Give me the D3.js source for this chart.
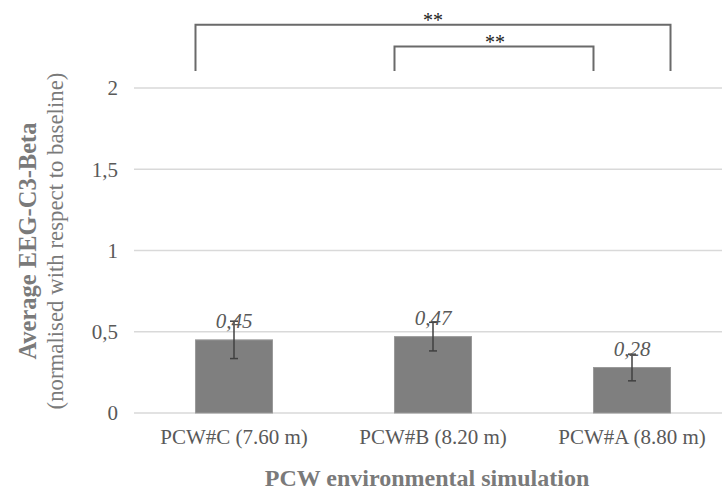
<!DOCTYPE html>
<html>
<head>
<meta charset="utf-8">
<script src="https://cdn.jsdelivr.net/npm/d3@7/dist/d3.min.js"></script>
<style>
  html, body { margin: 0; padding: 0; background: #fff; }
</style>
</head>
<body>
<svg id="chart" width="722" height="498"></svg>
<script>
// Conditions and measured means
const categories = ["PCW#C (7.60 m)", "PCW#B (8.20 m)", "PCW#A (8.80 m)"];
const means = [0.45, 0.47, 0.28];
const errors = [0.115, 0.088, 0.082];
const valueLabels = ["0,45", "0,47", "0,28"];
const yTicks = [0, 0.5, 1, 1.5, 2];
const yTickLabels = ["0", "0,5", "1", "1,5", "2"];
// Significance brackets between conditions
const bracketFrom = ["PCW#C (7.60 m)", "PCW#B (8.20 m)"];
const bracketTo = ["PCW#A (8.80 m)", "PCW#A (8.80 m)"];
const bracketMarks = ["**", "**"];

const FONT = "'Liberation Serif', 'Tinos', 'Times New Roman', 'DejaVu Serif', serif";

const svg = d3.select("#chart").attr("font-family", FONT);

const x = d3.scaleBand()
  .domain(categories)
  .range([134.5, 731.5])
  .paddingInner(0.613)
  .paddingOuter(0.3065);

const y = d3.scaleLinear().domain([0, 2]).range([413, 88]);

// Horizontal gridlines
svg.append("g")
  .selectAll("line")
  .data(yTicks)
  .join("line")
  .attr("x1", 134).attr("x2", 731)
  .attr("y1", d => y(d)).attr("y2", d => y(d))
  .attr("stroke", "#d9d9d9")
  .attr("stroke-width", 1.3);

// Y axis tick labels
svg.append("g")
  .selectAll("text")
  .data(yTicks)
  .join("text")
  .attr("font-family", FONT)
  .attr("x", 118)
  .attr("y", d => y(d))
  .attr("dy", "0.35em")
  .attr("text-anchor", "end")
  .attr("font-size", 21)
  .attr("fill", "#595959")
  .text((d, i) => yTickLabels[i]);

// Bars
svg.append("g")
  .selectAll("rect")
  .data(categories)
  .join("rect")
  .attr("x", d => x(d))
  .attr("width", x.bandwidth())
  .attr("y", (d, i) => y(means[i]))
  .attr("height", (d, i) => y(0) - y(means[i]))
  .attr("fill", "#7f7f7f")
  .attr("stroke", "#9a9a9a")
  .attr("stroke-width", 1);

// Error bars
const eb = svg.append("g").attr("stroke", "#404040").attr("stroke-width", 1.5);
categories.forEach((c, i) => {
  const cx = x(c) + x.bandwidth() / 2;
  const hi = y(means[i] + errors[i]);
  const lo = y(means[i] - errors[i]);
  eb.append("line").attr("x1", cx).attr("x2", cx).attr("y1", hi).attr("y2", lo);
  eb.append("line").attr("x1", cx - 4).attr("x2", cx + 4).attr("y1", hi).attr("y2", hi);
  eb.append("line").attr("x1", cx - 4).attr("x2", cx + 4).attr("y1", lo).attr("y2", lo);
});

// Value labels above bars
svg.append("g")
  .selectAll("text")
  .data(categories)
  .join("text")
  .attr("font-family", FONT)
  .attr("x", d => x(d) + x.bandwidth() / 2)
  .attr("y", (d, i) => y(means[i]) - 11.5)
  .attr("text-anchor", "middle")
  .attr("font-size", 21)
  .attr("font-style", "italic")
  .attr("fill", "#595959")
  .text((d, i) => valueLabels[i]);

// Category labels
svg.append("g")
  .selectAll("text")
  .data(categories)
  .join("text")
  .attr("font-family", FONT)
  .attr("x", d => x(d) + x.bandwidth() / 2)
  .attr("y", 444)
  .attr("text-anchor", "middle")
  .attr("font-size", 21)
  .attr("fill", "#595959")
  .text(d => d);

// Axis titles
svg.append("text")
  .attr("font-family", FONT)
  .attr("x", 427).attr("y", 486)
  .attr("text-anchor", "middle")
  .attr("font-size", 24)
  .attr("font-weight", "bold")
  .attr("fill", "#7a7a7a")
  .text("PCW environmental simulation");

const yTitle = svg.append("g").attr("transform", "translate(0,241)");
yTitle.append("text")
  .attr("font-family", FONT)
  .attr("transform", "translate(27,0) rotate(-90)")
  .attr("text-anchor", "middle")
  .attr("dominant-baseline", "central")
  .attr("font-size", 24.5)
  .attr("font-weight", "bold")
  .attr("fill", "#7a7a7a")
  .text("Average EEG-C3-Beta");
yTitle.append("text")
  .attr("font-family", FONT)
  .attr("transform", "translate(55,0) rotate(-90)")
  .attr("text-anchor", "middle")
  .attr("dominant-baseline", "central")
  .attr("font-size", 22.8)
  .attr("fill", "#7a7a7a")
  .text("(normalised with respect to baseline)");

// Significance brackets
const bracketTop = [2.39, 2.255];
const bracketBottom = 2.105;
const br = svg.append("g");
bracketFrom.forEach((from, i) => {
  const x1 = x(from);
  // the outer bracket closes at the far edge of the last bar, the inner one at its near edge
  const x2 = i === 0 ? x(bracketTo[i]) + x.bandwidth() : x(bracketTo[i]);
  const yt = y(bracketTop[i]);
  const yb = y(bracketBottom);
  br.append("path")
    .attr("d", `M${x1},${yb}V${yt}H${x2}V${yb}`)
    .attr("fill", "none")
    .attr("stroke", "#6a6a6a")
    .attr("stroke-width", 2);
  br.append("text")
    .attr("font-family", FONT)
    .attr("x", i === 0 ? 433 : 495)
    .attr("y", yt + 2)
    .attr("text-anchor", "middle")
    .attr("font-size", 20)
    .attr("fill", "#222")
    .text(bracketMarks[i]);
});
</script>
</body>
</html>
